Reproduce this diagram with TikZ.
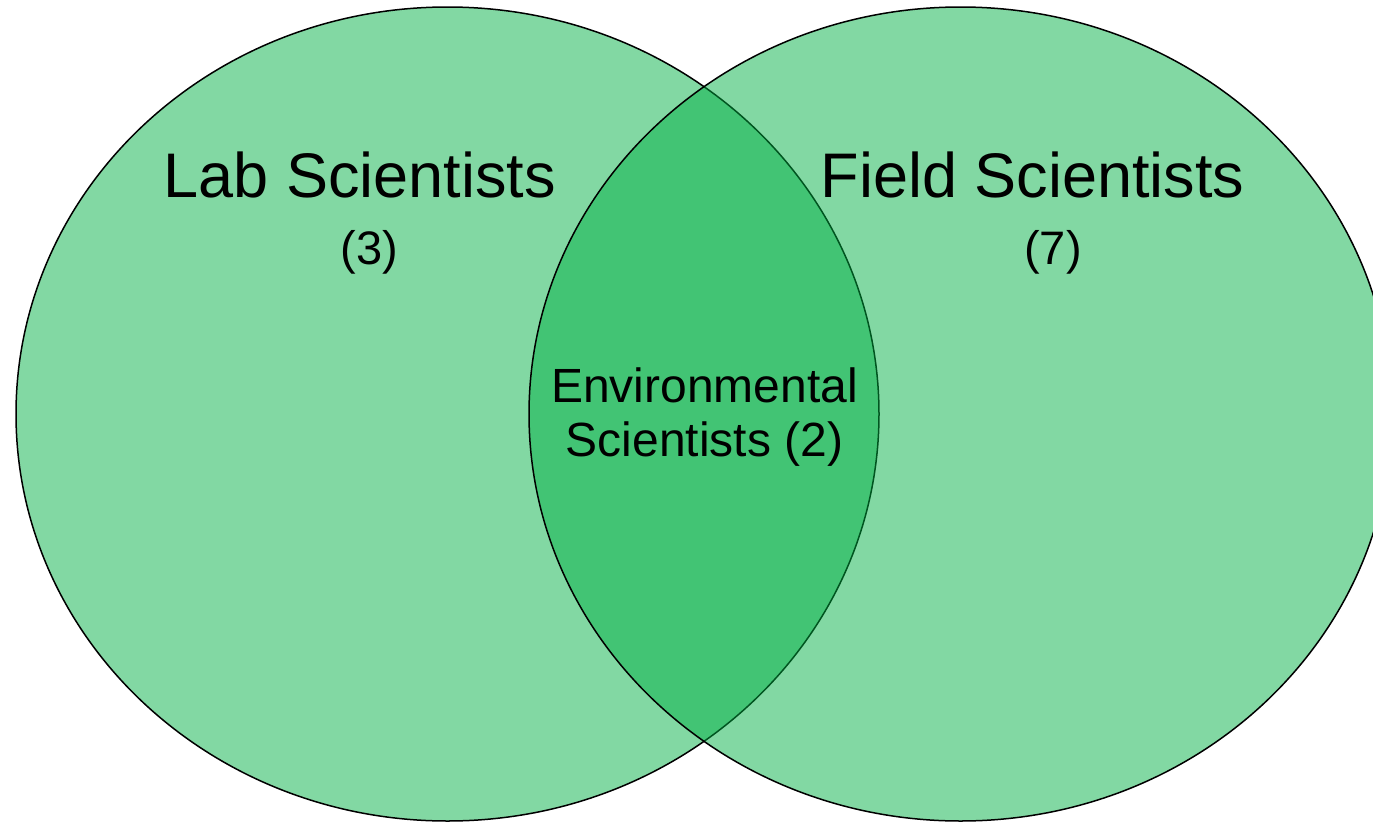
\documentclass[tikz,border=0pt]{standalone}
\usepackage{fontspec}
\setmainfont{Liberation Sans}
\usetikzlibrary{positioning}
\definecolor{setgreen}{RGB}{0,175,67}
\tikzset{
  halmaz/.style={fill=setgreen,fill opacity=0.49,draw=black,draw opacity=1,line width=1.5pt},
  cim/.style={anchor=base,inner sep=0pt,font=\fontsize{63}{70}\selectfont},
  szam/.style={anchor=base,inner sep=0pt,font=\fontsize{47}{54}\selectfont},
  kozos/.style={align=center,inner sep=0pt,font=\fontsize{48}{54}\selectfont},
}

\begin{document}
\begin{tikzpicture}[x=1pt,y=-1pt]
  \useasboundingbox (0,0) rectangle (1373,822);
  % the two sets, the right one laid over the left
  \draw[halmaz] (447.5,414) ellipse [x radius=431.5,y radius=407];
  \draw[halmaz] (960.5,414) ellipse [x radius=431.5,y radius=407];
  \node[cim] (lab) at (360,197) {Lab Scientists};
  \node[szam] (labn) at (369.5,264) {(3)};
  \node[cim] (field) at (1032.5,197) {Field Scientists};
  \node[szam] (fieldn) at (1053,264) {(7)};
  \node[kozos] (env) at (704.5,417.5) {Environmental\\Scientists (2)};
\end{tikzpicture}
\end{document}
